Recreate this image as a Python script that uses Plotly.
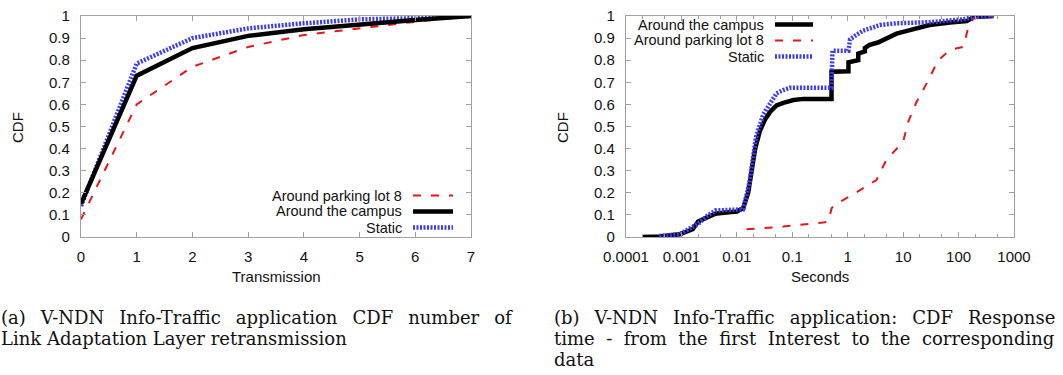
import plotly.graph_objects as go

W, H = 1063, 375

# ---------------- data: left panel (a) ----------------
trans_x = [0, 1, 2, 3, 4, 5, 6, 7]
parking_a = [0.08, 0.60, 0.77, 0.86, 0.914, 0.944, 0.974, 1.0]
campus_a = [0.15, 0.73, 0.855, 0.91, 0.94, 0.962, 0.982, 1.0]
static_a = [0.14, 0.785, 0.90, 0.944, 0.967, 0.985, 0.99, 1.0]

# ---------------- data: right panel (b) ----------------
campus_bx = [0.0002, 0.0004, 0.00093, 0.00126, 0.0016, 0.002, 0.0029, 0.0041, 0.0058, 0.01,
             0.013, 0.016, 0.0185, 0.0214, 0.026, 0.032, 0.04, 0.052, 0.069, 0.105, 0.158,
             0.51, 0.51, 1.03, 1.03, 1.55, 1.55, 2.04, 2.04, 2.5, 3.5, 5.0, 7.6, 12.2, 18.6,
             30, 70, 141, 186, 427]
campus_by = [0.0, 0.002, 0.012, 0.025, 0.035, 0.07, 0.09, 0.105, 0.11, 0.115,
             0.13, 0.2, 0.3, 0.4, 0.48, 0.53, 0.567, 0.595, 0.607, 0.62, 0.625,
             0.625, 0.748, 0.75, 0.79, 0.80, 0.83, 0.84, 0.855, 0.87, 0.88, 0.90, 0.92, 0.934, 0.945,
             0.959, 0.971, 0.977, 0.995, 1.0]

parking_bx = [0.015, 0.069, 0.36, 0.45, 0.51, 0.63, 1.7, 3.3, 5.0, 10, 12.3, 17.5, 26.5,
              43, 70, 123, 150, 186, 427]
parking_by = [0.035, 0.047, 0.066, 0.07, 0.13, 0.15, 0.213, 0.258, 0.35, 0.431, 0.52, 0.612,
              0.695, 0.80, 0.846, 0.861, 0.95, 0.99, 1.0]

static_bx = [0.0004, 0.00093, 0.002, 0.0029, 0.0041, 0.01, 0.013, 0.017, 0.022, 0.03, 0.04,
             0.052, 0.069, 0.09, 0.51, 0.51, 0.53, 1.03, 1.1, 1.35, 1.9, 3.8, 7.6, 30, 123,
             186, 427]
static_by = [0.005, 0.012, 0.06, 0.095, 0.12, 0.12, 0.125, 0.25, 0.45, 0.555, 0.61,
             0.65, 0.665, 0.675, 0.675, 0.75, 0.843, 0.843, 0.894, 0.91, 0.934, 0.959, 0.967,
             0.972, 0.985, 0.995, 1.0]

y_ticks = [0, 0.1, 0.2, 0.3, 0.4, 0.5, 0.6, 0.7, 0.8, 0.9, 1]
y_labels = ["0", "0.1", "0.2", "0.3", "0.4", "0.5", "0.6", "0.7", "0.8", "0.9", "1"]
log_ticks = [0.0001, 0.001, 0.01, 0.1, 1, 10, 100, 1000]
log_labels = ["0.0001", "0.001", "0.01", "0.1", "1", "10", "100", "1000"]

caption_a = ["(a) V-NDN Info-Traffic application CDF number of",
             "Link Adaptation Layer retransmission"]
caption_b = ["(b) V-NDN Info-Traffic application: CDF Response",
             "time - from the first Interest to the corresponding",
             "data"]

# ---------------- styles ----------------
RED = "#e8141c"
BLACK = "#000000"
BLUE = "#3b3bf0"
GREY = "#a0a0a0"
FONT = "Liberation Sans"
SERIF = "DejaVu Serif"

# inter-word spacing used to mimic the justified typesetting of each caption line
WIDE = "\u00a0\u2009 "
MID = "\u00a0 "
spacing_a = [WIDE, " "]
spacing_b = [WIDE, MID, " "]

styles = {
    "parking": dict(color=RED, width=2, dash="8px,10px"),
    "campus": dict(color=BLACK, width=4.5),
    "static": dict(color=BLUE, width=4.5, dash="2px,1.5px"),
}

fig = go.Figure()

# panel (a): parking, static, campus
fig.add_trace(go.Scatter(x=trans_x, y=parking_a, mode="lines", line=styles["parking"],
                         xaxis="x", yaxis="y", showlegend=False))
fig.add_trace(go.Scatter(x=trans_x, y=static_a, mode="lines", line=styles["static"],
                         xaxis="x", yaxis="y", showlegend=False))
fig.add_trace(go.Scatter(x=trans_x, y=campus_a, mode="lines", line=styles["campus"],
                         xaxis="x", yaxis="y", showlegend=False))

# panel (b): campus, parking, static
fig.add_trace(go.Scatter(x=campus_bx, y=campus_by, mode="lines", line=styles["campus"],
                         xaxis="x2", yaxis="y2", showlegend=False))
fig.add_trace(go.Scatter(x=parking_bx, y=parking_by, mode="lines", line=styles["parking"],
                         xaxis="x2", yaxis="y2", showlegend=False))
fig.add_trace(go.Scatter(x=static_bx, y=static_by, mode="lines", line=styles["static"],
                         xaxis="x2", yaxis="y2", showlegend=False))

def px(x):
    return x / W

def py(y):
    return 1 - y / H

y_dom = [py(237), py(16)]
common = dict(showline=True, linecolor=GREY, linewidth=1.2, mirror="ticks",
              ticks="inside", ticklen=5, tickcolor=GREY, tickwidth=1,
              showgrid=False, zeroline=False, automargin=False,
              tickfont=dict(family=FONT, size=15, color="#111"))

fig.update_layout(
    width=W, height=H,
    margin=dict(l=0, r=0, t=0, b=0, autoexpand=False),
    paper_bgcolor="white", plot_bgcolor="white",
    xaxis=dict(domain=[px(81), px(471)], range=[0, 7], tickvals=trans_x,
               ticktext=[str(v) for v in trans_x], anchor="y", ticklabelstandoff=6,
               **common),
    yaxis=dict(domain=y_dom, range=[0, 1], tickvals=y_ticks, ticktext=y_labels,
               anchor="x", ticklabelstandoff=7, **common),
    xaxis2=dict(domain=[px(626), px(1014)], type="log", range=[-4, 3], tickvals=log_ticks,
                ticktext=log_labels, anchor="y2", ticklabelstandoff=6,
                minor=dict(ticks="inside", ticklen=3, tickcolor=GREY,
                           tickvals=[m * 10 ** e for e in range(-4, 3) for m in (2, 5)]),
                **common),
    yaxis2=dict(domain=y_dom, range=[0, 1], tickvals=y_ticks, ticktext=y_labels,
                anchor="x2", ticklabelstandoff=7, **common),
)

annotations = []
shapes = []

def text(x, y, s, size=15, xanchor="center", angle=0, family=FONT):
    annotations.append(dict(x=px(x), y=py(y), xref="paper", yref="paper", text=s,
                            showarrow=False, xanchor=xanchor, yanchor="middle",
                            textangle=angle, borderpad=0,
                            font=dict(family=family, size=size, color="#111")))

# axis titles
text(18, 128, "CDF", angle=-90)
text(563, 128, "CDF", angle=-90)
text(276, 276, "Transmission")
text(820, 276, "Seconds")

# legends
def legend(entries, right, x0, x1, ys):
    for (label, key), y in zip(entries, ys):
        text(right, y, label, size=14.5, xanchor="right")
        st = styles[key]
        shapes.append(dict(type="line", xref="paper", yref="paper",
                           x0=px(x0), x1=px(x1), y0=py(y), y1=py(y),
                           line=dict(color=st["color"], width=st["width"],
                                     dash=st.get("dash", "solid"))))

legend([("Around parking lot 8", "parking"), ("Around the campus", "campus"),
        ("Static", "static")], 403, 413, 453, [195.5, 211.5, 227.5])
legend([("Around the campus", "campus"), ("Around parking lot 8", "parking"),
        ("Static", "static")], 765, 775, 813, [24.5, 40.5, 56.5])

# captions
def caption(lines, spacing, x0):
    for i, (line, sp) in enumerate(zip(lines, spacing)):
        s = line.replace(" ", sp)
        annotations.append(dict(x=px(x0), y=py(317 + 21 * i), xref="paper", yref="paper",
                                text=s, showarrow=False, xanchor="left", yanchor="middle",
                                borderpad=0,
                                font=dict(family=SERIF, size=18, color="#111")))

caption(caption_a, spacing_a, 0)
caption(caption_b, spacing_b, 553)

fig.update_layout(annotations=annotations, shapes=shapes)
fig.write_html("out.html")
